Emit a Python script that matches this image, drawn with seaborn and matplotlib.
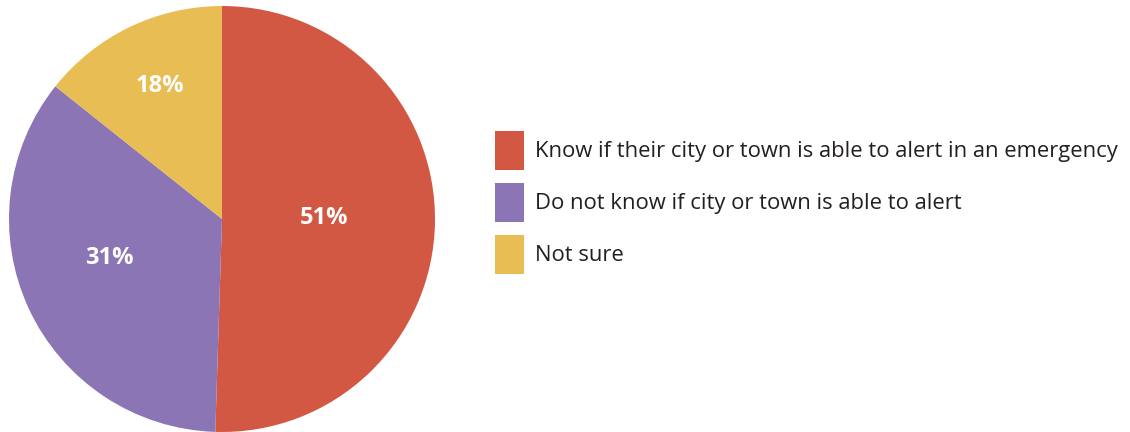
import matplotlib
matplotlib.use("Agg")
import matplotlib.pyplot as plt
import seaborn as sns

categories = [
    "Know if their city or town is able to alert in an emergency",
    "Do not know if city or town is able to alert",
    "Not sure",
]
# printed labels
pct_labels = ["51%", "31%", "18%"]
# slice shares as drawn in the reference picture
shares = [50.5, 35.2, 14.3]
colors = ["#D25843", "#8C75B4", "#E8BE54"]
label_pos = [(0.479, 0.005), (-0.531, -0.183), (-0.291, 0.624)]

sns.set_theme(style="white")
plt.rcParams["font.family"] = ["Open Sans", "DejaVu Sans"]

fig = plt.figure(figsize=(11.3, 4.32), dpi=100)
W, H = 1130, 432
cx, cy, R = 222, 219, 213
ax = fig.add_axes([(cx - R) / W, (H - cy - R) / H, 2 * R / W, 2 * R / H])

wedges, texts = ax.pie(
    shares,
    colors=sns.color_palette(colors),
    startangle=90,
    counterclock=False,
    radius=1,
    wedgeprops=dict(linewidth=0),
)
for lab, p in zip(pct_labels, label_pos):
    ax.text(p[0], p[1], lab, color="white", fontsize=17, fontweight="bold",
            ha="center", va="center")
ax.set_xlim(-1, 1)
ax.set_ylim(-1, 1)
ax.set_aspect("auto")
ax.axis("off")

fig.legend(
    wedges,
    categories,
    loc="upper left",
    bbox_to_anchor=(495 / W, 1 - 131 / H),
    frameon=False,
    fontsize=15.8,
    handlelength=1.33,
    handleheight=2.36,
    labelspacing=0.58,
    handletextpad=0.5,
    borderpad=0,
    borderaxespad=0,
    labelcolor="#231F20",
)

fig.savefig("out.png", dpi=100, facecolor="white")
